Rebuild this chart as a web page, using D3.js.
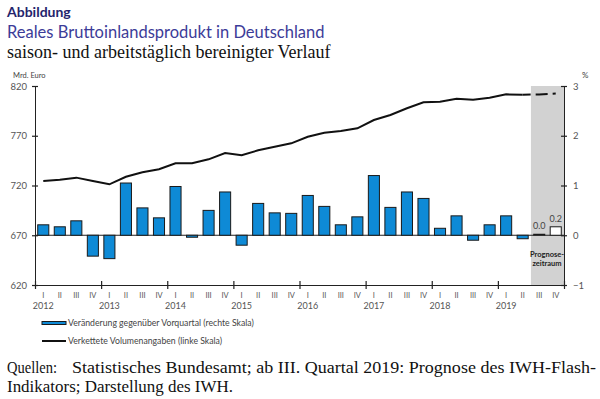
<!DOCTYPE html>
<html>
<head>
<meta charset="utf-8">
<script src="https://cdn.jsdelivr.net/npm/d3@7"></script>
<style>
  body { margin: 0; background: #fff; }
  svg text { font-family: Lato, "Open Sans", sans-serif; }
  svg text.serif { font-family: "Liberation Serif", serif; }
</style>
</head>
<body>
<svg id="chart" width="600" height="399"></svg>
<script>
// datos
const years = [2012, 2013, 2014, 2015, 2016, 2017, 2018, 2019];
const quarterNames = ['I', 'II', 'III', 'IV'];
// Veränderung gegenüber Vorquartal, % (rechte Skala)
const change = [0.21, 0.17, 0.29, -0.42, -0.47, 1.05, 0.55, 0.35,
                0.98, -0.04, 0.50, 0.87, -0.20, 0.64, 0.45, 0.44,
                0.80, 0.58, 0.21, 0.37, 1.20, 0.56, 0.87, 0.74,
                0.14, 0.39, -0.10, 0.21, 0.39, -0.07, 0.02, 0.17];
// Verkettete Volumenangaben, Mrd. Euro (linke Skala)
const level = [724.5, 725.8, 727.9, 724.5, 721.2, 728.8, 733.3, 736.3,
               742.3, 742.3, 746.3, 752.7, 750.4, 755.4, 759.0, 762.4,
               769.0, 773.0, 774.8, 777.5, 785.8, 790.9, 797.6, 803.6,
               804.2, 807.2, 806.2, 808.2, 811.6, 811.3, 811.4, 812.4];
const forecastStart = 30; // ab III. Quartal 2019
const leftTicks = [620, 670, 720, 770, 820];
const rightTicks = [-1, 0, 1, 2, 3];

const quarters = [];
years.forEach(y => quarterNames.forEach(q => quarters.push(y + '-' + q)));

const svg = d3.select('#chart');
const x0 = 35, x1 = 564, yTop = 86, yBot = 285;

const x = d3.scaleBand().domain(quarters).range([x0, x1]).paddingInner(0.33).paddingOuter(0.165);
const xq = d3.scaleLinear().domain([0, quarters.length]).range([x0, x1]);
const yL = d3.scaleLinear().domain([620, 820]).range([yBot, yTop]);
const yR = d3.scaleLinear().domain([-1, 3]).range([yBot, yTop]);

// cabecera
svg.append('text').attr('x', 7).attr('y', 17).text('Abbildung')
  .attr('font-size', 14).attr('font-weight', 'bold').attr('fill', '#24246c');
svg.append('text').attr('x', 7).attr('y', 38).text('Reales Bruttoinlandsprodukt in Deutschland')
  .attr('font-size', 16.5).attr('fill', '#3c3c98');
svg.append('text').attr('class', 'serif').attr('x', 7).attr('y', 58).text('saison- und arbeitstäglich bereinigter Verlauf')
  .attr('font-size', 18).attr('fill', '#111');

svg.append('text').attr('x', 13).attr('y', 78).text('Mrd. Euro').attr('font-size', 7.5).attr('fill', '#444');
svg.append('text').attr('x', 582).attr('y', 78).text('%').attr('font-size', 8).attr('fill', '#444');

// zona de prognosis
svg.append('rect')
  .attr('x', xq(forecastStart)).attr('y', yTop)
  .attr('width', xq(quarters.length) - xq(forecastStart)).attr('height', yBot - yTop)
  .attr('fill', '#d2d2d2');

// linea cero
svg.append('line').attr('x1', x0).attr('x2', x1).attr('y1', yR(0)).attr('y2', yR(0))
  .attr('stroke', '#222').attr('stroke-width', 1);

// barras
svg.append('g').selectAll('rect').data(change).join('rect')
  .attr('x', (d, i) => x(quarters[i]))
  .attr('width', x.bandwidth())
  .attr('y', d => yR(Math.max(0, d)))
  .attr('height', d => Math.abs(yR(d) - yR(0)))
  .attr('fill', (d, i) => i >= forecastStart ? '#fff' : '#0e8ad6')
  .attr('stroke', '#1a1a1a').attr('stroke-width', 1);

// etiquetas de la prognosis
svg.append('g').selectAll('text').data(change.slice(forecastStart)).join('text')
  .attr('x', (d, i) => x(quarters[forecastStart + i]) + x.bandwidth() / 2)
  .attr('y', d => yR(Math.max(0, d)) - 5)
  .attr('text-anchor', 'middle').attr('font-size', 9).attr('fill', '#444')
  .text(d => d.toFixed(1));

svg.append('text').attr('x', 547).attr('y', 257).attr('text-anchor', 'middle')
  .attr('font-size', 7.5).attr('font-weight', 'bold').attr('fill', '#222').text('Prognose-');
svg.append('text').attr('x', 547).attr('y', 266).attr('text-anchor', 'middle')
  .attr('font-size', 7.5).attr('font-weight', 'bold').attr('fill', '#222').text('zeitraum');

// linea de nivel
const line = d3.line()
  .x((d, i) => x(quarters[i]) + x.bandwidth() / 2)
  .y(d => yL(d));
svg.append('path').datum(level.slice(0, forecastStart))
  .attr('fill', 'none').attr('stroke', '#111').attr('stroke-width', 2)
  .attr('d', line);
const lineF = d3.line()
  .x((d, i) => x(quarters[forecastStart - 1 + i]) + x.bandwidth() / 2)
  .y(d => yL(d));
svg.append('path').datum(level.slice(forecastStart - 1))
  .attr('fill', 'none').attr('stroke', '#111').attr('stroke-width', 2)
  .attr('stroke-dasharray', '8,5,12,5,4')
  .attr('d', lineF);

// ejes
function crossTicks(g) {
  g.select('.domain').attr('stroke', '#222');
  g.selectAll('.tick line').attr('stroke', '#222').attr('stroke-width', 1.2);
  g.selectAll('.tick text').attr('fill', '#555').style('font-family', 'Lato, sans-serif');
}
const axL = svg.append('g').attr('transform', 'translate(' + x0 + ',0)')
  .call(d3.axisLeft(yL).tickValues(leftTicks).tickSizeOuter(0).tickSize(3).tickPadding(5))
  .call(crossTicks);
axL.selectAll('.tick line').attr('x1', -3).attr('x2', 3);
axL.selectAll('.tick text').attr('font-size', 9.5);

const axR = svg.append('g').attr('transform', 'translate(' + x1 + ',0)')
  .call(d3.axisRight(yR).tickValues(rightTicks).tickFormat(d3.format('d')).tickSizeOuter(0).tickSize(3).tickPadding(6))
  .call(crossTicks);
axR.selectAll('.tick line').attr('x1', -3).attr('x2', 3);
axR.selectAll('.tick text').attr('font-size', 9.5);

const axB = svg.append('g').attr('transform', 'translate(0,' + yBot + ')')
  .call(d3.axisBottom(xq).tickValues(d3.range(0, quarters.length + 1, 4)).tickFormat('').tickSizeOuter(0))
  .call(crossTicks);
axB.selectAll('.tick line').attr('y1', -4).attr('y2', 4);

// etiquetas de trimestres y años
svg.append('g').selectAll('text').data(quarters).join('text')
  .attr('x', d => x(d) + x.bandwidth() / 2).attr('y', 298)
  .attr('text-anchor', 'middle').attr('font-size', 7.5).attr('fill', '#555')
  .text(d => d.split('-')[1]);
svg.append('g').selectAll('text').data(years).join('text')
  .attr('x', d => x(d + '-I') + x.bandwidth() / 2).attr('y', 309)
  .attr('text-anchor', 'middle').attr('font-size', 9).attr('fill', '#555')
  .text(d => d);

// leyenda
svg.append('rect').attr('x', 42).attr('y', 321.5).attr('width', 24).attr('height', 3)
  .attr('fill', '#0e8ad6').attr('stroke', '#1a1a1a').attr('stroke-width', 1);
svg.append('text').attr('x', 68).attr('y', 326).attr('font-size', 8.7).attr('fill', '#444')
  .text('Veränderung gegenüber Vorquartal (rechte Skala)');
svg.append('line').attr('x1', 42).attr('x2', 66).attr('y1', 341).attr('y2', 341)
  .attr('stroke', '#111').attr('stroke-width', 2);
svg.append('text').attr('x', 68).attr('y', 344).attr('font-size', 8.7).attr('fill', '#444')
  .text('Verkettete Volumenangaben (linke Skala)');

// fuentes
const foot = svg.append('g').attr('font-size', 17.5).attr('fill', '#111');
foot.append('text').attr('class', 'serif').attr('x', 7).attr('y', 373)
  .attr('textLength', 50).attr('lengthAdjust', 'spacingAndGlyphs').text('Quellen:');
foot.append('text').attr('class', 'serif').attr('x', 72).attr('y', 373)
  .attr('textLength', 524).attr('lengthAdjust', 'spacingAndGlyphs')
  .text('Statistisches Bundesamt; ab III. Quartal 2019: Prognose des IWH-Flash-');
foot.append('text').attr('class', 'serif').attr('x', 7).attr('y', 392)
  .attr('textLength', 226).attr('lengthAdjust', 'spacingAndGlyphs')
  .text('Indikators; Darstellung des IWH.');
</script>
</body>
</html>
